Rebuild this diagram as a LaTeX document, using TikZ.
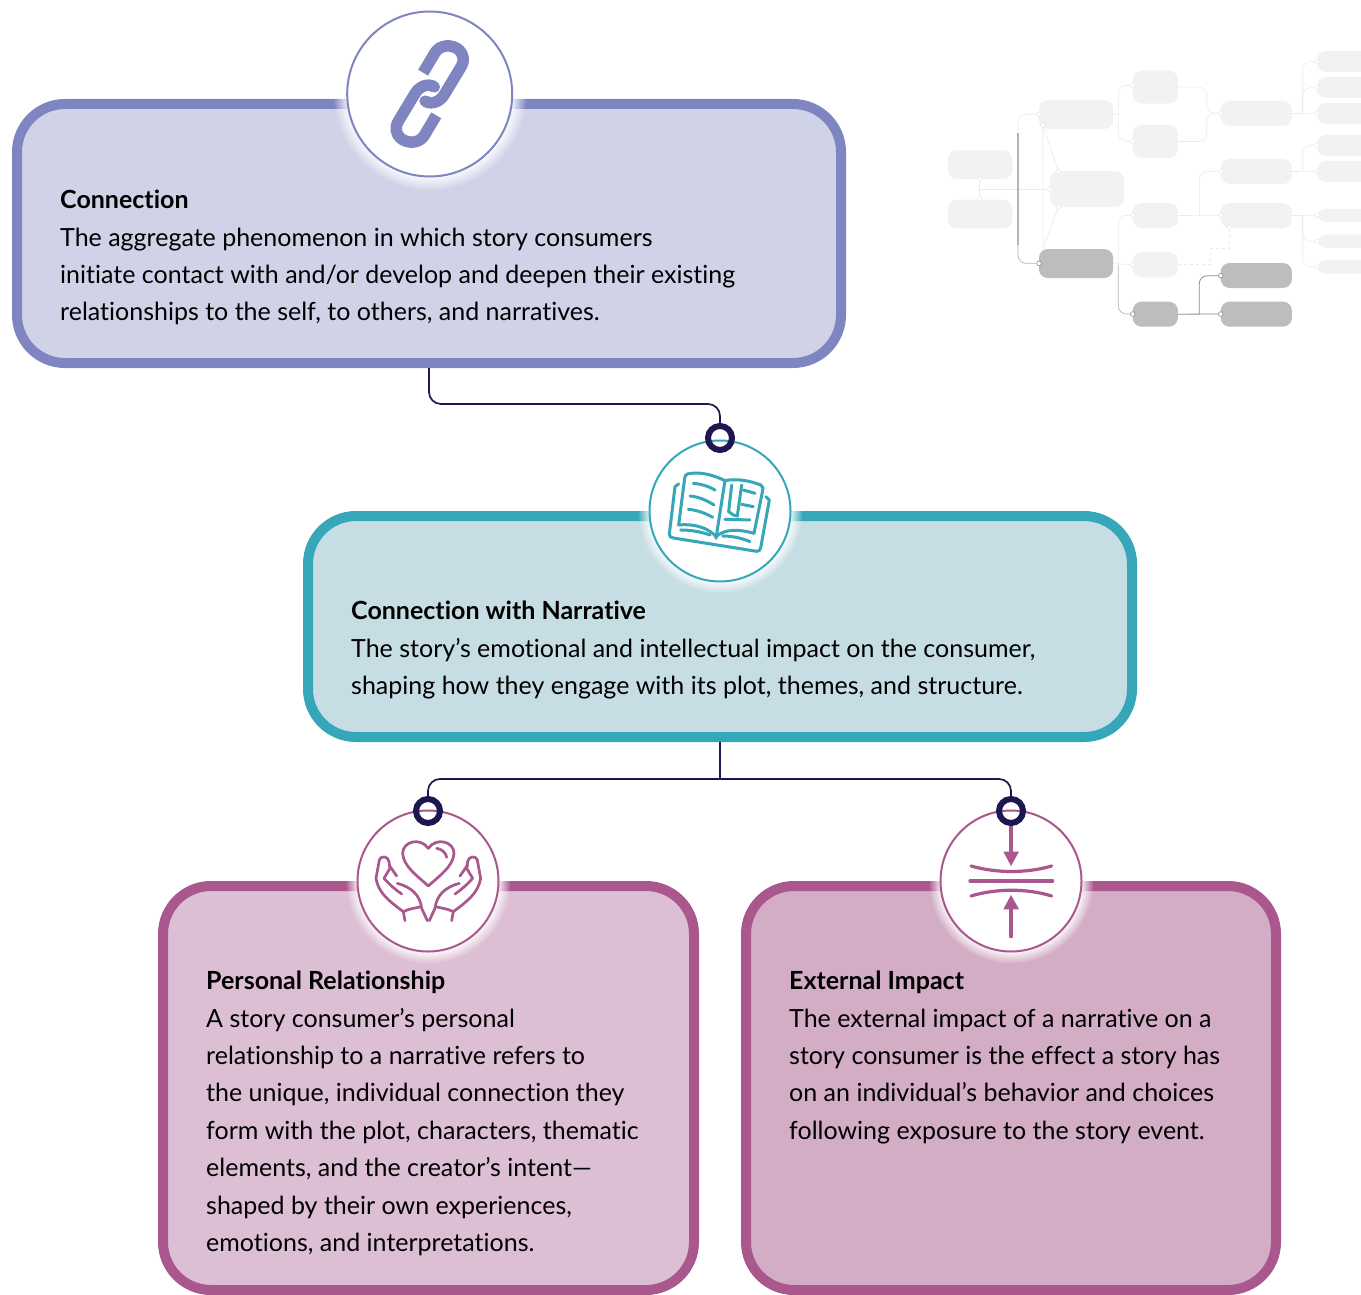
\documentclass[tikz,border=0pt]{standalone}
\usepackage{fontspec}
\setmainfont{Lato}[Ligatures={TeX,NoCommon}]
\usetikzlibrary{shadows,fadings}
\definecolor{navyline}{HTML}{1D1650}
\definecolor{linkblue}{HTML}{7F85C1}
\definecolor{linkfill}{HTML}{D0D2E8}
\definecolor{narrteal}{HTML}{35A7B8}
\definecolor{narrfill}{HTML}{C5DDE3}
\definecolor{plum}{HTML}{A9578D}
\definecolor{persfill}{HTML}{DCBFD5}
\definecolor{extfill}{HTML}{D3ADC6}
\definecolor{minilight}{HTML}{F1F2F2}
\definecolor{minidark}{HTML}{BCBDBE}
\definecolor{miniedge}{HTML}{E9EAEA}
\definecolor{miniport}{HTML}{8A8B8C}
\definecolor{minitrunk}{HTML}{B4B5B6}
\tikzset{
	card/.style={draw, line width=10pt, rounded corners=48pt, inner sep=0pt},
	badge/.style={circle, draw, line width=2pt, fill=white, inner sep=0pt,
		circular drop shadow={shadow scale=1.17, shadow xshift=0pt, shadow yshift=0pt, fill=white, opacity=0.9}},
	ring/.style={circle, draw=navyline, line width=6pt, minimum size=24pt, inner sep=0pt},
	wire/.style={draw=navyline, line width=1.7pt, rounded corners=12pt},
	blurb/.style={anchor=north west, align=left, inner sep=0pt, text=black, font=\fontsize{25}{37.4}\selectfont},
	icon/.style={line width=3pt, line cap=round, line join=round},
	minibox/.style={rounded corners=9pt, inner sep=0pt},
	minidot/.style={circle, draw=miniedge, fill=white, line width=0.6pt, minimum size=4.6pt, inner sep=0pt},
	miniwire/.style={draw=miniedge, line width=0.6pt, rounded corners=8pt},
	minidarkwire/.style={draw=miniport, line width=0.8pt, rounded corners=8pt},
}
\begin{document}
\begin{tikzpicture}[x=1pt,y=-1pt]
\useasboundingbox (0,0) rectangle (1361,1295);

\foreach \name/\x/\y/\w/\h in {a/980/164.7/64.5/28.7, b/980/214.2/64.5/29, c/1076/114.5/74.3/29, d/1087/189/74/36.3,
	f/1155.3/87.2/45.3/33, g/1155.3/141.5/45.3/33, h/1155.3/215.5/45.3/25, i/1155.3/264.7/45.3/25.3,
	k/1256.3/113.5/71.3/25, l/1256.3/171.5/71.3/25, m/1256.3/215.5/71.3/25,
	p/1347/61.5/60/21, q/1347/87.5/60/21, r/1347/113.5/60/21, s/1347/145.5/60/21, t/1347/171.5/60/21,
	u/1347/215.5/60/13, v/1347/241.3/60/13.3, w/1347/266.8/60/13.7}{
	\node[minibox, fill=minilight, minimum width=\w pt, minimum height=\h pt] (\name) at (\x,\y) {};
}
\foreach \name/\x/\y/\w/\h in {e/1076/263.5/74.3/29, j/1155.3/314.2/45.3/25, n/1256.3/275.5/71.3/25, o/1256.3/314.2/71.3/25}{
	\node[minibox, fill=minidark, minimum width=\w pt, minimum height=\h pt] (\name) at (\x,\y) {};
}
\foreach \name/\x/\y in {pa/979.7/179, pb/979.7/199.3, pd/1050/189.3, pc/1039/114.3, pcb/1042.7/125.3, pda/1058.3/171.3, pdb/1058.3/206.7,
	pf/1132.7/85.3, pg/1132.7/141.3, ph/1132.7/215.3, pi/1132.7/264.7, pk/1220.7/113.3, pl/1220.7/171.3, pm/1220.7/215.3, pmb/1229.3/227.3,
	pp/1317/61.7, pq/1317/87.7, pr/1317/113.3, ps/1317/145.3, pt/1317/171.3, pu/1317/215.3, pv/1317/241.3, pw/1317/267}{
	\node[minidot] (\name) at (\x,\y) {};
}
\foreach \name/\x/\y in {pe/1039/263.3, pj/1132.7/314, pn/1220.7/275.7, po/1220.7/314}{
	\node[minidot, draw=miniport] (\name) at (\x,\y) {};
}
\coordinate (jab) at (979.7,189.3);
\coordinate (jtr) at (1018,133);
\coordinate (jtb) at (1018,245);
\coordinate (jcg) at (1118.3,114.3);
\coordinate (jei) at (1118.3,264.7);
\coordinate (jfg) at (1206.7,113.3);
\coordinate (jkr) at (1302.7,113.3);
\coordinate (jlt) at (1302.7,171.3);
\coordinate (jmu) at (1302.7,215.3);
\coordinate (jhl) at (1199.3,215.3);
\coordinate (jjn) at (1199.3,314);
\coordinate (jdash) at (1210.7,248.3);
\coordinate (jeb) at (1043,249);

\draw[miniwire] (pa)--(pb);
\draw[miniwire] (jab)--(pd);
\draw[miniwire] (pc) -| (jtr);
\draw[miniwire] (pcb)--(jeb);
\draw[miniwire] (pcb)--(pda);
\draw[miniwire] (pdb)--(jeb);
\draw[miniwire] (c.east)--(jcg);
\draw[miniwire] (jcg) |- (pf);
\draw[miniwire] (jcg) |- (pg);
\draw[miniwire] (f.east) -| (jfg)--(pk);
\draw[miniwire] (g.east) -| (jfg)--(pk);
\draw[miniwire] (k.east)--(pr);
\draw[miniwire] (jkr) |- (pp);
\draw[miniwire] (jkr) |- (pq);
\draw[miniwire] (l.east)--(pt);
\draw[miniwire] (jlt) |- (ps);
\draw[miniwire] (m.east)--(pu);
\draw[miniwire] (jmu) |- (pv);
\draw[miniwire] (jmu) |- (pw);
\draw[miniwire] (h.east)--(pm);
\draw[miniwire] (jhl) |- (pl);
\draw[miniwire] (e.east)--(pi);
\draw[miniwire] (jei) |- (ph);
\draw[miniwire, dashed, rounded corners=0pt] (i.east) -| (jdash) -| (pmb);
\draw[draw=minitrunk, line width=1.3pt] (jtr)--(jtb);
\draw[draw=minitrunk, line width=0.7pt, rounded corners=8pt] (jtb) |- (pe);
\draw[draw=minitrunk, line width=0.7pt, rounded corners=8pt] (jei) |- (pj);
\draw[minidarkwire] (j.east)--(po);
\draw[minidarkwire] (jjn) |- (pn);

\node[card, draw=linkblue, fill=linkfill, minimum width=824pt, minimum height=259pt] (connection) at (429,233.5) {};
\node[card, draw=narrteal, fill=narrfill, minimum width=824pt, minimum height=221pt] (narrative) at (720,626.5) {};
\node[card, draw=plum, fill=persfill, minimum width=531pt, minimum height=404pt] (personal) at (428.5,1088) {};
\node[card, draw=plum, fill=extfill, minimum width=530pt, minimum height=404pt] (external) at (1011,1088) {};

\node[badge, draw=linkblue, minimum size=165pt] (connectionbadge) at (429.7,94) {};
\node[badge, draw=narrteal, minimum size=141pt] (narrativebadge) at (720,511) {};
\node[badge, draw=plum, minimum size=141pt] (personalbadge) at (428,881) {};
\node[badge, draw=plum, minimum size=141pt] (externalbadge) at (1011,881) {};

\foreach \a in {0,180}{
	\begin{scope}[shift={(connectionbadge.center)}, rotate=\a, scale=0.94]
		\draw[linkblue, line width=11.5pt, line join=round] (-7,-22.7)--(5.7,-44) .. controls (11,-53) and (24,-53) .. (31,-47) .. controls (36,-43) and (37,-35) .. (34,-30)--(15.3,1) .. controls (11,8) and (2,12) .. (-5,7.5);
		\fill[linkblue] (-5,7.5) circle (6);
	\end{scope}
}

\begin{scope}[shift={(630,390)}, x=0.3333pt, y=-0.3333pt, draw=narrteal, icon]
	\draw (285,272) .. controls (240,250) and (200,245) .. (172,252) .. controls (165,255) and (165,260) .. (164,265)--(146,405) .. controls (200,400) and (240,418) .. (258,440);
	\draw (285,272) .. controls (320,265) and (360,272) .. (392,285) .. controls (400,290) and (400,295) .. (398,302)--(372,430) .. controls (330,418) and (285,415) .. (258,440);
	\draw (285,272)--(258,445);
	\draw (146,282)--(135,290)--(118,432) .. controls (118,440) and (122,442) .. (130,444)--(380,484) .. controls (388,484) and (390,480) .. (392,474)--(418,330)--(408,320);
	\draw (152,420) .. controls (185,420) and (215,426) .. (240,435);
	\draw (278,438) .. controls (305,438) and (335,444) .. (360,455);
	\draw (190,280) .. controls (215,282) and (238,290) .. (255,300);
	\draw (180,318) .. controls (205,320) and (232,332) .. (252,345);
	\draw (175,358) .. controls (200,360) and (228,370) .. (248,382);
	\draw (305,285)--(296,365)--(310,375)--(322,378)--(335,285);
	\draw (340,300)--(375,310);
	\draw (335,343)--(370,350);
	\draw (285,388)--(360,390);
\end{scope}

\begin{scope}[shift={(340,770)}, x=0.3333pt, y=-0.3333pt, draw=plum, icon, line width=2.7pt]
	\draw (265,348) .. controls (235,320) and (190,290) .. (188,250) .. controls (188,215) and (240,200) .. (265,235) .. controls (290,200) and (342,215) .. (342,250) .. controls (340,290) and (295,320) .. (265,348);
	\draw (290,235) .. controls (305,237) and (318,248) .. (320,262);
	\foreach \s in {1,-1}{
		\begin{scope}[shift={(265,0)}, xscale=\s, shift={(-265,0)}]
			\draw (195,452)--(190,425) .. controls (150,395) and (115,370) .. (108,325)--(118,270) .. controls (122,256) and (145,258) .. (147,275)--(150,295);
			\draw (147,285)--(170,318);
			\draw (150,295)--(132,325) .. controls (150,345) and (165,358) .. (185,372);
			\draw (172,340) .. controls (215,352) and (240,375) .. (245,415)--(262,452);
			\draw (190,425) .. controls (210,415) and (225,415) .. (243,410);
		\end{scope}
	}
\end{scope}

\begin{scope}[shift={(920,770)}, x=0.3333pt, y=-0.3333pt, draw=plum, icon, line width=3.2pt]
	\draw (273,160)--(273,250);
	\fill[plum] (250,245)--(297,245)--(273,288)--cycle;
	\draw (273,500)--(273,415);
	\fill[plum] (250,418)--(297,418)--(273,375)--cycle;
	\draw (153,288) .. controls (230,310) and (320,310) .. (395,288);
	\draw (150,333)--(398,333);
	\draw (153,378) .. controls (230,355) and (320,355) .. (395,378);
\end{scope}

\node[ring] (narrativeport) at (720,438) {};
\node[ring] (personalport) at (428,811) {};
\node[ring] (externalport) at (1011,811) {};
\coordinate (connectionbend) at (720,404);
\coordinate (narrativebend) at (720,779);

\draw[wire] (connection.south) |- (connectionbend)--(narrativeport);
\draw[wire] (narrative.south)--(narrativebend);
\draw[wire] (narrativebend) -| (personalport);
\draw[wire] (narrativebend) -| (externalport);

\node[blurb] (connectiontext) at (60,190) {\textbf{Connection}\\The aggregate phenomenon in which story consumers\\initiate contact with and/or develop and deepen their existing\\relationships to the self, to others, and narratives.};
\node[blurb] (narrativetext) at (351,601) {\textbf{Connection with Narrative}\\The story’s emotional and intellectual impact on the consumer,\\shaping how they engage with its plot, themes, and structure.};
\node[blurb] (personaltext) at (206,971) {\textbf{Personal Relationship}\\A story consumer’s personal\\relationship to a narrative refers to\\the unique, individual connection they\\form with the plot, characters, thematic\\elements, and the creator’s intent—\\shaped by their own experiences,\\emotions, and interpretations.};
\node[blurb] (externaltext) at (789,971) {\textbf{External Impact}\\The external impact of a narrative on a\\story consumer is the effect a story has\\on an individual’s behavior and choices\\following exposure to the story event.};
\end{tikzpicture}
\end{document}
